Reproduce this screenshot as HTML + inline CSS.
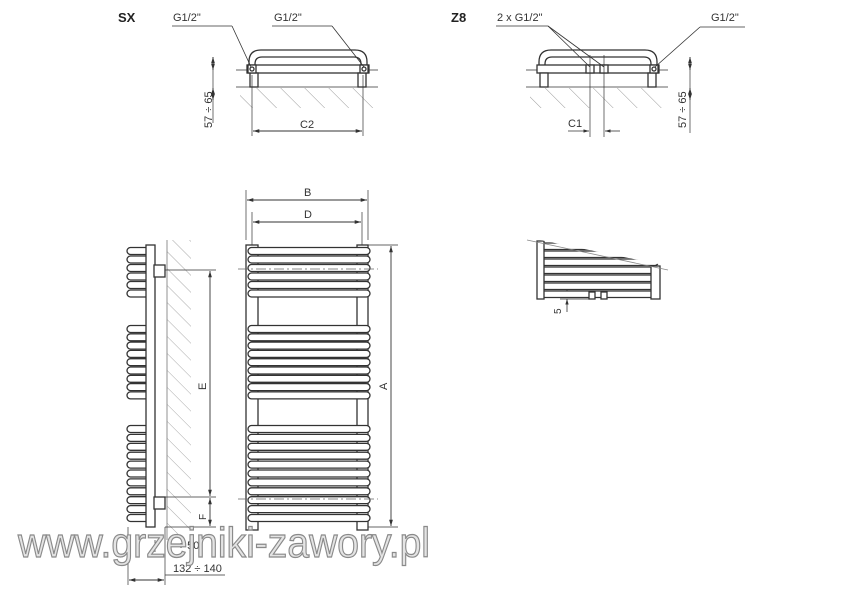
<!DOCTYPE html>
<html><head><meta charset="utf-8"><style>
html,body{margin:0;padding:0;background:#fff;width:850px;height:600px;overflow:hidden}
svg{display:block}
text{font-family:"Liberation Sans",sans-serif;fill:#333}
</style></head><body>
<svg width="850" height="600" viewBox="0 0 850 600" xmlns="http://www.w3.org/2000/svg">
<defs>
<marker id="a" viewBox="0 0 10 10" refX="10" refY="5" markerWidth="7" markerHeight="7" orient="auto-start-reverse"><path d="M0,2 L10,5 L0,8 z" fill="#333"/></marker>
<pattern id="h1" patternUnits="userSpaceOnUse" width="12" height="12" patternTransform="rotate(-45)"><line x1="0" y1="0" x2="0" y2="12" stroke="#aaa" stroke-width="1"/></pattern>
<pattern id="h2" patternUnits="userSpaceOnUse" width="17" height="17" patternTransform="rotate(-45)"><line x1="0" y1="0" x2="0" y2="17" stroke="#999" stroke-width="1"/></pattern>
</defs>
<g stroke="#333" fill="none" stroke-width="1.3">
<!-- side wall -->
<rect x="167" y="240" width="24" height="300" fill="url(#h1)" stroke="none"/>
<line x1="167" y1="240" x2="167" y2="540" stroke="#777" stroke-width="0.8"/>
<g fill="#fff">
<rect x="127" y="247.5" width="22" height="7" rx="3.5"/><rect x="127" y="256" width="22" height="7" rx="3.5"/><rect x="127" y="264.5" width="22" height="7" rx="3.5"/><rect x="127" y="273" width="22" height="7" rx="3.5"/><rect x="127" y="281.5" width="22" height="7" rx="3.5"/><rect x="127" y="290" width="22" height="7" rx="3.5"/>
<rect x="127" y="325.5" width="22" height="7" rx="3.5"/><rect x="127" y="333.8" width="22" height="7" rx="3.5"/><rect x="127" y="342.1" width="22" height="7" rx="3.5"/><rect x="127" y="350.4" width="22" height="7" rx="3.5"/><rect x="127" y="358.7" width="22" height="7" rx="3.5"/><rect x="127" y="367" width="22" height="7" rx="3.5"/><rect x="127" y="375.3" width="22" height="7" rx="3.5"/><rect x="127" y="383.6" width="22" height="7" rx="3.5"/><rect x="127" y="391.9" width="22" height="7" rx="3.5"/>
<rect x="127" y="425.5" width="22" height="7" rx="3.5"/><rect x="127" y="434.4" width="22" height="7" rx="3.5"/><rect x="127" y="443.3" width="22" height="7" rx="3.5"/><rect x="127" y="452.2" width="22" height="7" rx="3.5"/><rect x="127" y="461.1" width="22" height="7" rx="3.5"/><rect x="127" y="470" width="22" height="7" rx="3.5"/><rect x="127" y="478.9" width="22" height="7" rx="3.5"/><rect x="127" y="487.8" width="22" height="7" rx="3.5"/><rect x="127" y="496.7" width="22" height="7" rx="3.5"/><rect x="127" y="505.6" width="22" height="7" rx="3.5"/><rect x="127" y="514.5" width="22" height="7" rx="3.5"/>
<rect x="146" y="245" width="9" height="282"/>
<rect x="154" y="265" width="11" height="12"/><rect x="154" y="497" width="11" height="12"/>
</g>
<g stroke-width="0.7">
<line x1="165" y1="270" x2="216" y2="270"/><line x1="165" y1="497" x2="216" y2="497"/><line x1="165" y1="527" x2="216" y2="527"/>
<line x1="128" y1="527" x2="128" y2="585"/><line x1="165" y1="527" x2="165" y2="585"/><line x1="155" y1="540" x2="155" y2="552"/>
<line x1="165" y1="575" x2="225" y2="575"/>
</g>
<g stroke-width="0.9" marker-start="url(#a)" marker-end="url(#a)">
<line x1="210" y1="271" x2="210" y2="496"/><line x1="210" y1="498" x2="210" y2="526"/>
<line x1="129" y1="580" x2="164" y2="580"/>
<line x1="247" y1="200" x2="367" y2="200"/><line x1="253" y1="222" x2="361" y2="222"/>
<line x1="391" y1="246" x2="391" y2="526"/>
<line x1="253" y1="131" x2="362" y2="131"/>
<line x1="213" y1="57" x2="213" y2="70"/><line x1="213" y1="100" x2="213" y2="88"/>
<line x1="690" y1="57" x2="690" y2="70"/><line x1="690" y1="100" x2="690" y2="88"/>
</g>
<!-- front view -->
<g stroke-width="0.7">
<line x1="246" y1="190" x2="246" y2="240"/><line x1="368" y1="190" x2="368" y2="240"/><line x1="252" y1="212" x2="252" y2="245"/><line x1="362" y1="212" x2="362" y2="245"/>
<line x1="368" y1="245" x2="398" y2="245"/><line x1="368" y1="527" x2="398" y2="527"/>
</g>
<g fill="#fff">
<rect x="246" y="245" width="12" height="285"/><rect x="357" y="245" width="11" height="285"/>
<rect x="248" y="247.5" width="122" height="7" rx="3.5"/><rect x="248" y="256" width="122" height="7" rx="3.5"/><rect x="248" y="264.5" width="122" height="7" rx="3.5"/><rect x="248" y="273" width="122" height="7" rx="3.5"/><rect x="248" y="281.5" width="122" height="7" rx="3.5"/><rect x="248" y="290" width="122" height="7" rx="3.5"/>
<rect x="248" y="325.5" width="122" height="7" rx="3.5"/><rect x="248" y="333.8" width="122" height="7" rx="3.5"/><rect x="248" y="342.1" width="122" height="7" rx="3.5"/><rect x="248" y="350.4" width="122" height="7" rx="3.5"/><rect x="248" y="358.7" width="122" height="7" rx="3.5"/><rect x="248" y="367" width="122" height="7" rx="3.5"/><rect x="248" y="375.3" width="122" height="7" rx="3.5"/><rect x="248" y="383.6" width="122" height="7" rx="3.5"/><rect x="248" y="391.9" width="122" height="7" rx="3.5"/>
<rect x="248" y="425.5" width="122" height="7" rx="3.5"/><rect x="248" y="434.4" width="122" height="7" rx="3.5"/><rect x="248" y="443.3" width="122" height="7" rx="3.5"/><rect x="248" y="452.2" width="122" height="7" rx="3.5"/><rect x="248" y="461.1" width="122" height="7" rx="3.5"/><rect x="248" y="470" width="122" height="7" rx="3.5"/><rect x="248" y="478.9" width="122" height="7" rx="3.5"/><rect x="248" y="487.8" width="122" height="7" rx="3.5"/><rect x="248" y="496.7" width="122" height="7" rx="3.5"/><rect x="248" y="505.6" width="122" height="7" rx="3.5"/><rect x="248" y="514.5" width="122" height="7" rx="3.5"/>
</g>
<g stroke="#666" stroke-width="0.8" stroke-dasharray="10 3 2 3">
<line x1="238" y1="269" x2="378" y2="269"/><line x1="238" y1="499" x2="378" y2="499"/>
</g>
<!-- SX top -->
<rect x="240" y="88" width="135" height="20" fill="url(#h2)" stroke="none"/>
<line x1="236" y1="70" x2="378" y2="70" stroke-width="0.7"/><line x1="236" y1="87" x2="378" y2="87" stroke-width="0.7"/>
<path d="M249,66 V62 Q249,50 261,50 H355 Q367,50 367,62 V66"/>
<path d="M255,66 V64 Q255,57 262,57 H354 Q361,57 361,64 V66"/>
<g fill="#fff"><rect x="247" y="65" width="122" height="8"/><rect x="250" y="73" width="8" height="14"/><rect x="358" y="73" width="8" height="14"/>
<rect x="248" y="65" width="8" height="8"/><rect x="360" y="65" width="8" height="8"/></g>
<circle cx="252" cy="69" r="2"/><circle cx="364" cy="69" r="2"/>
<g stroke-width="0.8"><line x1="172" y1="26" x2="232" y2="26"/><line x1="232" y1="26" x2="251" y2="67"/><line x1="272" y1="26" x2="332" y2="26"/><line x1="332" y1="26" x2="364" y2="67"/></g>
<g stroke-width="0.7"><line x1="213" y1="57" x2="213" y2="123"/><line x1="252" y1="75" x2="252" y2="136"/><line x1="363" y1="75" x2="363" y2="136"/></g>
<!-- Z8 top -->
<rect x="530" y="88" width="135" height="20" fill="url(#h2)" stroke="none"/>
<line x1="526" y1="70" x2="668" y2="70" stroke-width="0.7"/><line x1="526" y1="87" x2="668" y2="87" stroke-width="0.7"/>
<path d="M539,66 V62 Q539,50 551,50 H645 Q657,50 657,62 V66"/>
<path d="M545,66 V64 Q545,57 552,57 H644 Q651,57 651,64 V66"/>
<g fill="#fff"><rect x="537" y="65" width="122" height="8"/><rect x="540" y="73" width="8" height="14"/><rect x="648" y="73" width="8" height="14"/>
<rect x="586" y="65" width="8" height="8"/><rect x="600" y="65" width="8" height="8"/><rect x="650" y="65" width="8" height="8"/></g>
<circle cx="654" cy="69" r="2"/>
<g stroke-width="0.8"><line x1="496" y1="26" x2="548" y2="26"/><line x1="548" y1="26" x2="590" y2="67"/><line x1="548" y1="26" x2="604" y2="67"/><line x1="700" y1="27" x2="745" y2="27"/><line x1="700" y1="27" x2="655" y2="67"/></g>
<g stroke-width="0.7"><line x1="590" y1="55" x2="590" y2="137"/><line x1="604" y1="55" x2="604" y2="137"/><line x1="690" y1="57" x2="690" y2="133"/></g>
<g stroke-width="0.8" marker-end="url(#a)"><line x1="568" y1="131" x2="589" y2="131"/><line x1="620" y1="131" x2="605" y2="131"/>
<line x1="567" y1="284" x2="567" y2="291"/><line x1="567" y1="312" x2="567" y2="299"/></g>
<!-- corner view -->
<g fill="#fff">
<rect x="538" y="243" width="120" height="6.5" rx="3"/><rect x="538" y="251" width="120" height="6.5" rx="3"/><rect x="538" y="259" width="120" height="6.5" rx="3"/><rect x="538" y="267" width="120" height="6.5" rx="3"/><rect x="538" y="275" width="120" height="6.5" rx="3"/><rect x="538" y="283" width="120" height="6.5" rx="3"/><rect x="538" y="291" width="120" height="6.5" rx="3"/>
<rect x="537" y="241" width="7" height="58"/><rect x="651" y="266" width="9" height="33"/>
<rect x="589" y="292" width="6" height="7"/><rect x="601" y="292" width="6" height="7"/>
</g>
<polygon points="540,240 668,240 668,266" fill="#fff" stroke="none"/>
<line x1="527" y1="240" x2="668" y2="270" stroke="#888" stroke-width="0.8"/>
<g stroke-width="0.7"><line x1="560" y1="291" x2="595" y2="291"/><line x1="560" y1="299" x2="595" y2="299"/></g>
</g>
<text x="118" y="22" font-size="13" font-weight="bold" style="fill:#222">SX</text>
<text x="173" y="21" font-size="11">G1/2"</text>
<text x="274" y="21" font-size="11">G1/2"</text>
<text x="451" y="22" font-size="13" font-weight="bold" style="fill:#222">Z8</text>
<text x="497" y="21" font-size="11">2 x G1/2"</text>
<text x="711" y="21" font-size="11">G1/2"</text>
<text x="300" y="128" font-size="11">C2</text>
<text x="568" y="127" font-size="11">C1</text>
<text transform="translate(212,128) rotate(-90)" font-size="11">57 ÷ 65</text>
<text transform="translate(686,128) rotate(-90)" font-size="11">57 ÷ 65</text>
<text x="304" y="196" font-size="11">B</text>
<text x="304" y="218" font-size="11">D</text>
<text transform="translate(387,390) rotate(-90)" font-size="11">A</text>
<text transform="translate(206,390) rotate(-90)" font-size="11">E</text>
<text transform="translate(206,520) rotate(-90)" font-size="10">F</text>
<text transform="translate(561,314) rotate(-90)" font-size="10">5</text>
<text x="178" y="549" font-size="11">÷ 50</text>
<text x="173" y="572" font-size="11">132 ÷ 140</text>
<text x="18" y="557" font-size="42" textLength="412" lengthAdjust="spacingAndGlyphs" style="fill:#e4e4e4;stroke:#8a8a8a;stroke-width:1.2">www.grzejniki-zawory.pl</text>
</svg>
</body></html>
